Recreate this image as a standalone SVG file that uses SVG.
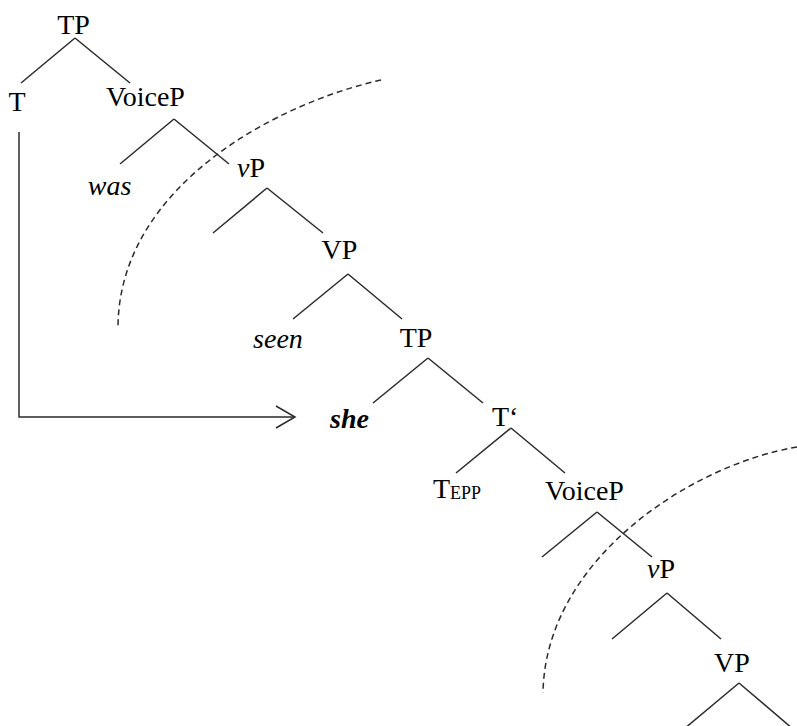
<svg xmlns="http://www.w3.org/2000/svg" width="797" height="726" viewBox="0 0 797 726">
<style>
text{font-family:"Liberation Serif","Times New Roman",serif;font-size:28px;fill:#000}
.it{font-style:italic}
.bi{font-style:italic;font-weight:bold}
.sub{font-size:18px}
.br{stroke:#2b2b2b;stroke-width:1.5;fill:none}
.dash{stroke:#2b2b2b;stroke-width:1.5;fill:none;stroke-dasharray:6 4}
</style>
<rect width="797" height="726" fill="#fff"/>
<g id="connectors">
<path class="br" d="M75,38 L21,83 M75,38 L130,83"/>
<path class="br" d="M174,119 L120,164 M174,119 L229,164"/>
<path class="br" d="M267,188 L213,233 M267,188 L323,233"/>
<path class="br" d="M348,274 L293,319 M348,274 L402,319"/>
<path class="br" d="M428,358 L373,403 M428,358 L483,403"/>
<path class="br" d="M511,428 L456,473 M511,428 L565,473"/>
<path class="br" d="M597,512 L542,557 M597,512 L652,557"/>
<path class="br" d="M667,593 L612,639 M667,593 L721,639"/>
<path class="br" d="M739,683 L684,729 M739,683 L793,729"/>
<path class="br" d="M19,132 V417 H295"/>
<polyline class="br" points="276,406 295,417 276,428"/>
<path class="dash" d="M381,80 C270,105 118,190 118,328"/>
<path class="dash" d="M797,447 C690,465 545,560 543,693"/>
</g>
<g id="n-TP1"><text x="73.5" y="34" text-anchor="middle">TP</text></g>
<g id="n-T1"><text x="17" y="111" text-anchor="middle">T</text></g>
<g id="n-VoiceP1"><text x="145.5" y="106" text-anchor="middle">VoiceP</text></g>
<g id="n-was"><text class="it" x="109.5" y="195" text-anchor="middle">was</text></g>
<g id="n-vP1"><text x="237" y="177"><tspan class="it">v</tspan>P</text></g>
<g id="n-VP1"><text x="339.5" y="259" text-anchor="middle">VP</text></g>
<g id="n-seen"><text class="it" x="278" y="348" text-anchor="middle">seen</text></g>
<g id="n-TP2"><text x="416" y="347" text-anchor="middle">TP</text></g>
<g id="n-she"><text class="bi" x="349.5" y="428" text-anchor="middle">she</text></g>
<g id="n-Tbar"><text x="492" y="426">T‘</text></g>
<g id="n-TEPP"><text x="433" y="498">T<tspan class="sub" y="499">EPP</tspan></text></g>
<g id="n-VoiceP2"><text x="584.5" y="500" text-anchor="middle">VoiceP</text></g>
<g id="n-vP2"><text x="647" y="578"><tspan class="it">v</tspan>P</text></g>
<g id="n-VP2"><text x="732" y="672" text-anchor="middle">VP</text></g>
</svg>
